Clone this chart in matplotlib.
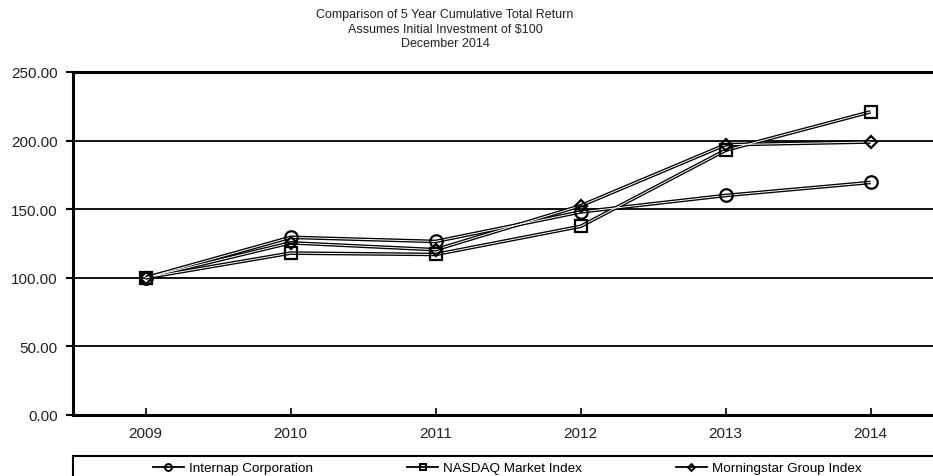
import matplotlib.pyplot as plt
from matplotlib.lines import Line2D
from matplotlib.patches import Rectangle

plt.rcParams['font.family'] = ['Liberation Sans', 'DejaVu Sans']

# Data
years = ["2009", "2010", "2011", "2012", "2013", "2014"]
internap = [100.0, 129.5, 126.5, 148.0, 160.0, 169.5]
nasdaq = [100.0, 118.0, 117.0, 137.5, 193.0, 221.0]
morningstar = [100.0, 125.5, 120.5, 152.5, 197.0, 199.0]

series = [
    ("Internap Corporation", internap, "o", 9),
    ("NASDAQ Market Index", nasdaq, "s", 8.5),
    ("Morningstar Group Index", morningstar, "D", 6.3),
]

fig = plt.figure(figsize=(9.33, 4.77), dpi=100)
ax = fig.add_axes([73 / 933, 1 - 416 / 477, 1 - 73 / 933, (416 - 73) / 477])

x = list(range(len(years)))

# grid lines
for v in [50, 100, 150, 200, 250]:
    ax.axhline(v, color="black", lw=1.3, zorder=1)

handles = []
for name, vals, mk, ms in series:
    # double line look: black outline with white core
    ax.plot(x, vals, color="black", lw=2.6, zorder=3, solid_capstyle="butt")
    ax.plot(x, vals, color="white", lw=0.7, zorder=4, solid_capstyle="butt")
    ax.plot(x, vals, linestyle="none", marker=mk, ms=ms, mfc="none",
            mec="black", mew=1.6, zorder=5)
    handles.append(Line2D([], [], color="black", lw=1.3, marker=mk,
                          ms=ms * 0.55, mfc="none", mec="black", mew=1.4,
                          label=name))

ax.set_xlim(-0.5, 5.43)
ax.set_ylim(0, 250)
ax.set_xticks(x)
ax.set_xticklabels(years)
ax.set_yticks([0, 50, 100, 150, 200, 250])
ax.set_yticklabels([f"{v:.2f}" for v in [0, 50, 100, 150, 200, 250]])
ax.tick_params(axis="x", direction="in", length=5, width=1.2, pad=8,
               labelsize=11, labelcolor="#222222")
ax.tick_params(axis="y", direction="out", length=5, width=1.5, pad=6,
               labelsize=11, labelcolor="#222222")

for side in ["top", "left", "bottom"]:
    ax.spines[side].set_linewidth(2.2)
ax.spines["right"].set_visible(False)

title = ("Comparison of 5 Year Cumulative Total Return\n"
         "Assumes Initial Investment of $100\n"
         "December 2014")
fig.text(445 / 933, 1 - 9 / 477, title, ha="center", va="top",
         fontsize=9, linespacing=1.3, color="#222222")

# legend box running off the bottom edge
fig.patches.append(Rectangle((73 / 933, -0.1), 1, (477 - 457) / 477 + 0.1,
                             transform=fig.transFigure, fill=False,
                             lw=1.5, edgecolor="black"))
fig.legend(handles=handles, loc="center left",
           bbox_to_anchor=(153 / 933, 1 - 469 / 477), ncol=3, fontsize=9.7,
           handlelength=2.3, handletextpad=0.35, columnspacing=7.0,
           borderpad=0, borderaxespad=0, frameon=False)

fig.savefig("out.png", dpi=100)
